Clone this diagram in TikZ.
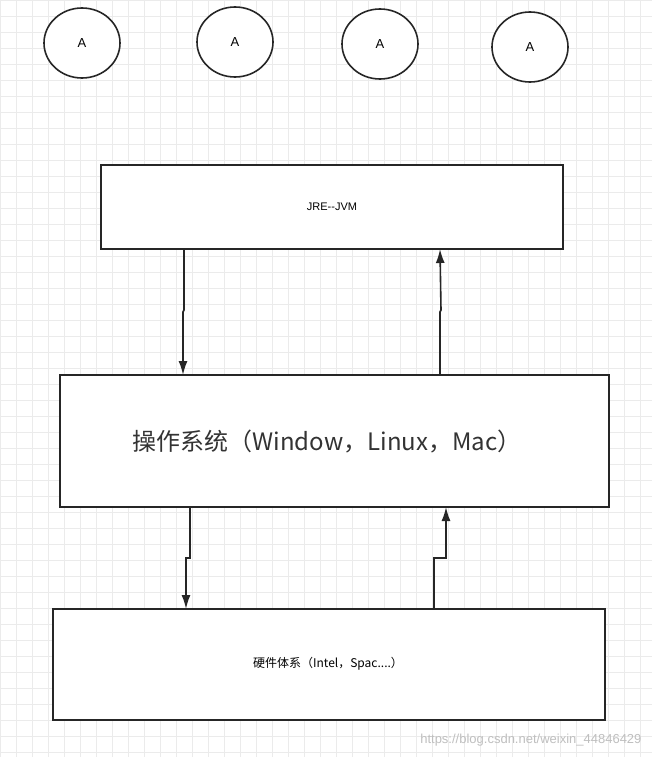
\documentclass[tikz,border=0pt]{standalone}
\usetikzlibrary{shapes.geometric,arrows.meta}
\usepackage{fontspec}
\setmainfont{Liberation Sans}
\newfontfamily\cjk{Noto Sans CJK SC}
\begin{document}
\begin{tikzpicture}[x=1pt,y=-1pt,
  box/.style={draw=black!85,line width=1.6pt,inner sep=0},
  circ/.style={draw=black!85,line width=1.6pt,ellipse,minimum width=76pt,minimum height=70pt,fill=white,inner sep=0},
  arr/.style={draw=black!85,line width=1.6pt,-{Latex[length=14pt,width=9pt]}}]
\useasboundingbox (0,0) rectangle (652,757);
\fill[white] (0,0) rectangle (652,757);
\foreach \i in {0,16,...,752} \draw[black!8,line width=0.5pt] (0,\i) -- (652,\i);
\foreach \i in {0,16,...,650} \draw[black!8,line width=0.5pt] (\i,0) -- (\i,757);
\foreach \n/\x/\y in {c1/82/43,c2/235/42,c3/380/44,c4/530/47}
  \node[circ,font=\fontsize{13}{15}\selectfont] (\n) at (\x,\y) {A};
\draw[box,fill=white] (101,165) rectangle (563,249);
\node[font=\fontsize{11}{13}\selectfont] (jre) at (332,207) {JRE-{}-JVM};
\draw[box,fill=white] (60,375) rectangle (609,507);
\node[font=\fontsize{24}{28}\cjk,text=black!80] (os) at (327,442) {操作系统（Window，Linux，Mac）};
\draw[box,fill=white] (53,609) rectangle (605,720);
\node[font=\fontsize{12}{14}\cjk] (hw) at (328,664) {硬件体系（Intel，Spac....）};
\coordinate (a1) at (184,249); \coordinate (a2) at (183,375);
\draw[arr] (a1) -- (184,310) -- (183,312) -- (a2);
\coordinate (b1) at (440,375); \coordinate (b2) at (440,249);
\draw[arr] (b1) -- (440,312) -- (441,310) -- (b2);
\coordinate (d1) at (190,507); \coordinate (d2) at (186,609);
\draw[arr] (d1) -- (190,558) -- (186,558) -- (d2);
\coordinate (e1) at (434,609); \coordinate (e2) at (446,507);
\draw[arr] (e1) -- (434,558) -- (446,558) -- (e2);
\node[font=\fontsize{13}{15}\selectfont,text=black!25,anchor=east] (wm) at (645,740) {https://blog.csdn.net/weixin\_44846429};
\end{tikzpicture}
\end{document}
